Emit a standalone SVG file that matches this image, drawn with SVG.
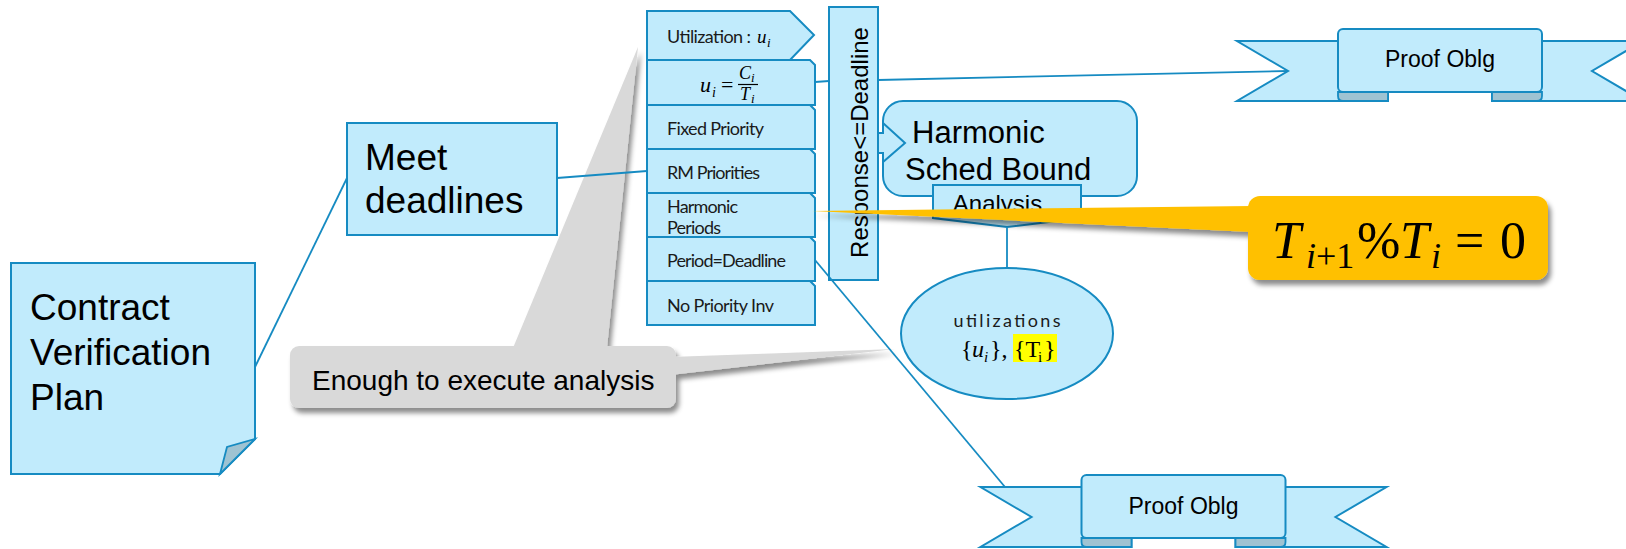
<svg xmlns="http://www.w3.org/2000/svg" width="1626" height="549" viewBox="0 0 1626 549">
  <style>
    .box { fill: #C1EBFC; stroke: #168BC2; stroke-width: 2; stroke-linejoin: miter; }
    .fold { fill: #9FC3D2; stroke: #168BC2; stroke-width: 1.8; }
    .conn { fill: none; stroke: #168BC2; stroke-width: 1.8; }
    .big { font-family: "Liberation Sans", Arial, sans-serif; fill: #000; }
    .tag { font-family: Lato, "Open Sans", sans-serif; font-size: 18px; fill: #1a1a1a; }
    .mi { font-family: "Liberation Serif", "DejaVu Serif", serif; font-style: italic; fill: #000; }
    .mr { font-family: "Liberation Serif", "DejaVu Serif", serif; fill: #000; }
  </style>
  <defs>
    <filter id="shadow" x="-10%" y="-10%" width="130%" height="140%">
      <feDropShadow dx="3" dy="5" stdDeviation="2.5" flood-color="#000" flood-opacity="0.45"/>
    </filter>
    <!-- ribbon banner, origin at top centre of the middle panel -->
    <g id="ribbon">
      <polygon class="box" points="-203,12 -52,12 -52,72 -203,72 -152,42"/>
      <polygon class="box" points="203,12 52,12 52,72 203,72 152,42"/>
      <path class="fold" d="M-102,63 H-52 V72 H-97 Q-102,72 -102,67 Z"/>
      <path class="fold" d="M102,63 H52 V72 H97 Q102,72 102,67 Z"/>
      <rect class="box" x="-102" y="0" width="204" height="63" rx="5"/>
    </g>
  </defs>

  <!-- Contract Verification Plan (note with folded corner) -->
  <g id="contract">
    <path class="box" d="M11,263 H255 V439 L220,474 H11 Z"/>
    <polygon class="fold" points="220,474 227,447 255,439"/>
    <text class="big" font-size="37" x="30" y="320">Contract</text>
    <text class="big" font-size="37" x="30" y="365">Verification</text>
    <text class="big" font-size="37" x="30" y="410">Plan</text>
  </g>

  <!-- Meet deadlines -->
  <g id="meet">
    <rect class="box" x="347" y="123" width="210" height="112"/>
    <text class="big" font-size="37" x="365" y="170">Meet</text>
    <text class="big" font-size="37" x="365" y="213">deadlines</text>
  </g>

  <!-- stacked requirement tags -->
  <g id="tag-utilization">
    <path class="box" d="M647,11 H790 L814,35 L790,60 H647 Z"/>
    <text class="tag" x="667" y="43" textLength="84">Utilization :</text>
    <text class="mi" font-size="19" x="757" y="43">u</text>
    <text class="mi" font-size="13" x="767" y="47">i</text>
  </g>
  <g id="tag-formula">
    <path class="box" d="M647,60 H810 L815,65 V105 H647 Z"/>
    <text class="mi" font-size="22" x="700" y="92">u</text>
    <text class="mi" font-size="14" x="712" y="97">i</text>
    <text class="mr" font-size="22" x="721" y="92">=</text>
    <text class="mi" font-size="18" x="739" y="79">C</text>
    <text class="mi" font-size="13" x="751" y="82">i</text>
    <line x1="738" y1="84.5" x2="758" y2="84.5" stroke="#000" stroke-width="1.2"/>
    <text class="mi" font-size="18" x="740" y="100">T</text>
    <text class="mi" font-size="13" x="751" y="103">i</text>
  </g>
  <g id="tag-fixed">
    <path class="box" d="M647,105 H810 L815,110 V149 H647 Z"/>
    <text class="tag" x="667" y="135" textLength="97">Fixed Priority</text>
  </g>
  <g id="tag-rm">
    <path class="box" d="M647,149 H810 L815,154 V193 H647 Z"/>
    <text class="tag" x="667" y="179" textLength="93">RM Priorities</text>
  </g>
  <g id="tag-harmonic">
    <path class="box" d="M647,193 H810 L815,198 V237 H647 Z"/>
    <text class="tag" x="667" y="213" textLength="71">Harmonic</text>
    <text class="tag" x="667" y="234" textLength="54">Periods</text>
  </g>
  <g id="tag-period">
    <path class="box" d="M647,237 H810 L815,242 V281 H647 Z"/>
    <text class="tag" x="667" y="267" textLength="119">Period=Deadline</text>
  </g>
  <g id="tag-inversion">
    <path class="box" d="M647,281 H810 L815,286 V325 H647 Z"/>
    <text class="tag" x="667" y="312" textLength="107">No Priority Inv</text>
  </g>

  <!-- Harmonic Sched Bound with incoming block arrow -->
  <g id="harmonic">
    <rect class="box" x="883" y="101" width="254" height="95" rx="20"/>
    <path class="box" d="M878,133 H883 V123 L905,143 L883,162 V153 H878"/>
    <text class="big" font-size="31" x="912" y="143">Harmonic</text>
    <text class="big" font-size="31" x="905" y="180">Sched Bound</text>
  </g>

  <!-- Response<=Deadline vertical bar -->
  <g id="response">
    <rect class="box" x="829" y="7" width="49" height="273"/>
    <text class="big" font-size="24" text-anchor="middle" transform="translate(868,142.5) rotate(-90)">Response&lt;=Deadline</text>
  </g>

  <!-- Analysis tag -->
  <g id="analysis">
    <path class="box" d="M933,185 H1081 V218 L1007,227 L933,218 Z"/>
    <text class="big" font-size="24" x="997.5" y="212" text-anchor="middle">Analysis</text>
  </g>

  <!-- utilizations ellipse -->
  <g id="utilizations">
    <ellipse class="box" cx="1007" cy="333.5" rx="106" ry="65.5"/>
    <text class="tag" font-size="21" x="1007" y="327" text-anchor="middle" textLength="107">utilizations</text>
    <rect x="1013" y="334" width="44" height="28" fill="#FFFF00"/>
    <text class="mr" font-size="24" x="961" y="357">{</text>
    <text class="mi" font-size="24" x="972" y="357">u</text>
    <text class="mi" font-size="15" x="984" y="362">i</text>
    <text class="mr" font-size="24" x="990" y="357">},</text>
    <text class="mr" font-size="24" x="1014" y="357">{T</text>
    <text class="mr" font-size="15" x="1038" y="362">i</text>
    <text class="mr" font-size="24" x="1044" y="357">}</text>
  </g>

  <!-- Proof obligation banners -->
  <g id="proof-top">
    <use href="#ribbon" transform="translate(1440,29)"/>
    <text class="big" font-size="23" x="1440" y="67" text-anchor="middle">Proof Oblg</text>
  </g>
  <g id="proof-bottom">
    <use href="#ribbon" transform="translate(1183.5,475)"/>
    <text class="big" font-size="23" x="1183.5" y="514" text-anchor="middle">Proof Oblg</text>
  </g>

  <!-- grey callout -->
  <g id="callout-analysis" filter="url(#shadow)">
    <polygon points="513,348 638,47 607,348" fill="#D9D9D9"/>
    <polygon points="670,357 895,349 670,375" fill="#D9D9D9"/>
    <rect x="290" y="346" width="386" height="62" rx="9" fill="#D9D9D9"/>
  </g>
  <text class="big" font-size="28" x="312" y="390">Enough to execute analysis</text>

  <!-- orange callout -->
  <g id="callout-harmonic" filter="url(#shadow)">
    <polygon points="1252,206 812,211 1252,232" fill="#FFC000"/>
    <rect x="1248" y="196" width="300" height="84" rx="12" fill="#FFC000"/>
  </g>
  <g id="callout-harmonic-text">
    <text class="mi" font-size="52" x="1272" y="258">T</text>
    <text class="mi" font-size="36" x="1306" y="268">i</text>
    <text class="mr" font-size="36" x="1316" y="268">+1</text>
    <text class="mr" font-size="52" x="1357" y="258">%</text>
    <text class="mi" font-size="52" x="1400" y="258">T</text>
    <text class="mi" font-size="36" x="1431" y="268">i</text>
    <text class="mr" font-size="52" x="1455" y="258">=</text>
    <text class="mr" font-size="52" x="1500" y="258">0</text>
  </g>

  <!-- connectors -->
  <g id="connectors">
    <line class="conn" x1="255" y1="367" x2="347" y2="178"/>
    <line class="conn" x1="557" y1="178" x2="647" y2="171"/>
    <line class="conn" x1="815" y1="82" x2="829" y2="81"/>
    <line class="conn" x1="878" y1="80" x2="1288" y2="71"/>
    <line class="conn" x1="815" y1="260" x2="1005" y2="487"/>
    <line class="conn" x1="1007" y1="227" x2="1007" y2="268"/>
  </g>
</svg>
